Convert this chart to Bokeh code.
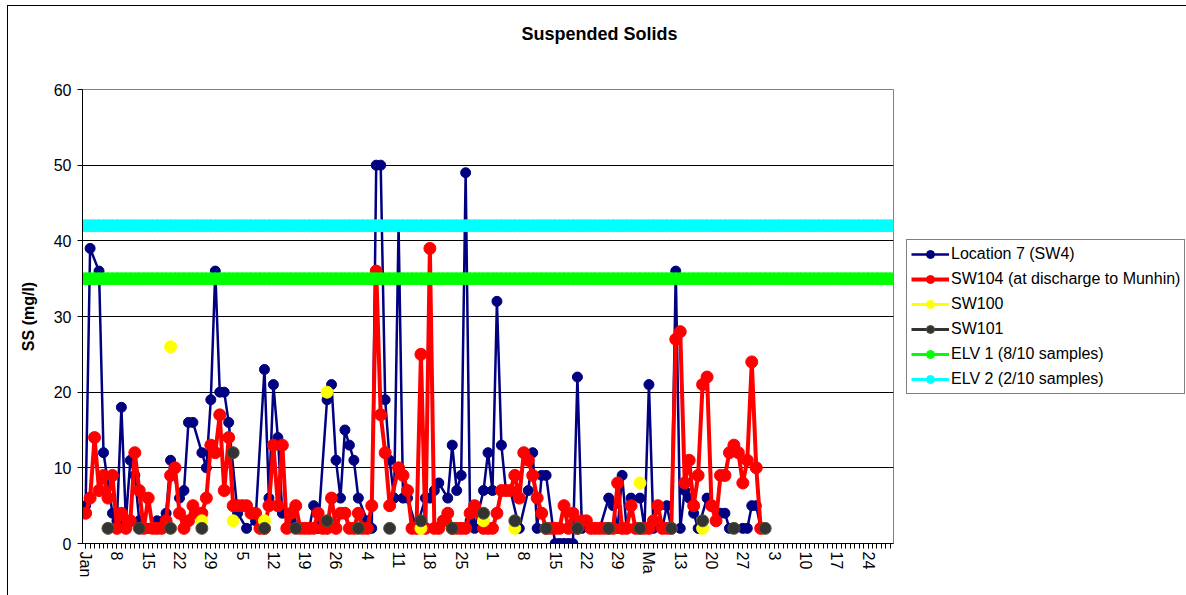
from bokeh.plotting import figure
from bokeh.models import Range1d, FixedTicker, Legend, LegendItem, Title
from bokeh.embed import file_html
from bokeh.resources import INLINE

FONT = "Liberation Sans"

# ---------------- data ----------------
# x = day of year (0 = 1 Jan), weekly tick labels as printed on the chart
tick_days = [0, 7, 14, 21, 28, 35, 42, 49, 56, 63, 70, 77, 84, 91, 98, 105,
             112, 119, 126, 133, 140, 147, 154, 161, 168, 175]
tick_labels = ["Jan", "8", "15", "22", "29", "5", "12", "19", "26", "4", "11",
               "18", "25", "1", "8", "15", "22", "29", "Ma", "13", "20", "27",
               "3", "10", "17", "24"]

loc7_day = [0, 1, 3, 4, 6, 7, 8, 9, 10, 11,
            12, 14, 16, 18, 19, 21, 22, 23, 24, 26,
            27, 28, 29, 30, 31, 32, 34, 36, 38, 40,
            41, 42, 43, 44, 46, 48, 50, 51, 52, 54,
            55, 56, 57, 58, 59, 60, 61, 63, 64, 65,
            66, 67, 68, 69, 70, 71, 72, 74, 76, 77,
            78, 79, 81, 82, 83, 84, 85, 86, 87, 89,
            90, 91, 92, 93, 94, 95, 97, 99, 100, 101,
            102, 103, 105, 106, 107, 108, 109, 110, 111, 113,
            115, 117, 118, 119, 120, 121, 122, 124, 125, 126,
            127, 129, 130, 131, 132, 133, 134, 135, 136, 137,
            139, 140, 142, 143, 144, 145, 147, 148, 149, 150,
            151]
loc7_ss = [5, 39, 36, 12, 4, 3, 18, 3, 11, 9,
           3, 2, 3, 4, 11, 6, 7, 16, 16, 12,
           10, 19, 36, 20, 20, 16, 4, 2, 3, 23,
           6, 21, 14, 4, 3, 2, 2, 5, 2, 19,
           21, 11, 6, 15, 13, 11, 6, 3, 2, 50,
           50, 19, 11, 6, 42, 6, 6, 2, 6, 6,
           7, 8, 6, 13, 7, 9, 49, 3, 2, 7,
           12, 7, 32, 13, 7, 7, 2, 7, 12, 2,
           9, 9, 0, 0, 0, 0, 0, 22, 2, 2,
           2, 6, 5, 2, 9, 2, 6, 6, 2, 21,
           2, 2, 5, 2, 36, 2, 7, 6, 4, 2,
           6, 5, 4, 4, 2, 2, 2, 2, 5, 5,
           2]

sw104_day = [0, 1, 2, 3, 4, 5, 6, 7, 8, 9,
             10, 11, 12, 13, 14, 15, 16, 17, 18, 19,
             20, 21, 22, 23, 24, 25, 26, 27, 28, 29,
             30, 31, 32, 33, 34, 35, 36, 37, 38, 39,
             40, 41, 42, 43, 44, 45, 46, 47, 48, 49,
             50, 51, 52, 53, 54, 55, 56, 57, 58, 59,
             60, 61, 62, 63, 64, 65, 66, 67, 68, 70,
             71, 72, 73, 74, 75, 76, 77, 78, 79, 80,
             81, 82, 83, 84, 85, 86, 87, 88, 89, 90,
             91, 92, 93, 94, 95, 96, 97, 98, 99, 100,
             101, 102, 103, 104, 105, 106, 107, 108, 109, 110,
             111, 112, 113, 114, 115, 116, 117, 118, 119, 120,
             121, 122, 123, 124, 125, 126, 127, 128, 129, 130,
             131, 132, 133, 134, 135, 136, 137, 138, 139, 140,
             141, 142, 143, 144, 145, 146, 147, 148, 149, 150, 151]
sw104_ss = [4, 6, 14, 7, 9, 6, 9, 2, 4, 2,
            3, 12, 7, 2, 6, 2, 2, 2, 3, 9,
            10, 4, 2, 3, 5, 4, 4, 6, 13, 12,
            17, 7, 14, 5, 5, 5, 5, 4, 4, 2,
            2, 5, 13, 5, 13, 2, 4, 5, 2, 2,
            2, 2, 4, 2, 2, 6, 2, 4, 4, 2,
            2, 4, 2, 2, 5, 36, 17, 12, 5, 10,
            9, 7, 2, 2, 25, 2, 39, 2, 2, 3,
            4, 2, 2, 2, 2, 4, 5, 4, 2, 2,
            2, 4, 7, 7, 7, 9, 6, 12, 11, 9,
            6, 4, 2, 2, 2, 2, 5, 2, 4, 2,
            3, 3, 2, 2, 2, 2, 2, 2, 8, 2,
            2, 5, 2, 2, 2, 2, 3, 5, 2, 2,
            2, 27, 28, 8, 11, 5, 9, 21, 22, 5,
            3, 9, 9, 12, 13, 12, 8, 11, 24, 10, 2]

sw100_day = [19, 26, 33, 40, 54, 75, 89, 96, 124, 138]
sw100_ss = [26, 3, 3, 3, 20, 2, 3, 2, 8, 2]

sw101_day = [5, 12, 19, 26, 33, 40, 47, 54, 61, 68, 75,
             82, 89, 96, 103, 110, 117, 124, 131, 138, 145, 152]
sw101_ss = [2, 2, 2, 2, 12, 2, 2, 3, 2, 2, 3,
            2, 4, 3, 2, 2, 2, 2, 2, 3, 2, 2]

ELV1 = 35   # 8/10 samples limit
ELV2 = 42   # 2/10 samples limit
elv_day = list(range(0, 181))

# ---------------- figure ----------------
p = figure(frame_width=811, frame_height=454,
           min_border_left=74, min_border_right=293,
           min_border_top=83, min_border_bottom=52,
           x_range=Range1d(-0.7, 180.7), y_range=Range1d(0, 60),
           output_backend="svg", toolbar_location=None,
           background_fill_color="white", border_fill_color="white",
           title="Suspended Solids")
p.styles = {"margin-left": "7px", "margin-top": "5px",
            "border-left": "1px solid black", "border-top": "1px solid black"}

p.title.align = "left"
p.title.offset = 439
p.title.text_font = FONT
p.title.text_font_size = "18px"
p.title.text_font_style = "bold"
p.title.text_color = "black"
p.title.standoff = 0

# empty spacer between the title and the plot area
spacer = Title(text=" ", text_font_size="2px", standoff=42)
p.add_layout(spacer, "above")

p.outline_line_color = "#808080"
p.outline_line_width = 1
p.xgrid.visible = False
p.ygrid.ticker = FixedTicker(ticks=[10, 20, 30, 40, 50, 60])
p.ygrid.grid_line_color = "black"
p.ygrid.grid_line_width = 1

ya = p.yaxis[0]
ya.ticker = FixedTicker(ticks=[0, 10, 20, 30, 40, 50, 60])
ya.axis_line_color = "black"
ya.major_tick_line_color = "black"
ya.major_tick_out = 5
ya.major_tick_in = 0
ya.minor_tick_line_color = None
ya.major_label_text_font = FONT
ya.major_label_text_font_size = "16px"
ya.major_label_text_color = "black"
ya.major_label_standoff = 6
ya.axis_label = "SS (mg/l)"
ya.axis_label_text_font = FONT
ya.axis_label_text_font_size = "16px"
ya.axis_label_text_font_style = "bold"
ya.axis_label_text_color = "black"
ya.axis_label_standoff = 14

xa = p.xaxis[0]
xa.ticker = FixedTicker(ticks=tick_days, minor_ticks=list(range(0, 181)))
xa.major_label_overrides = {d: l for d, l in zip(tick_days, tick_labels)}
xa.major_label_orientation = "vertical"
xa.axis_line_color = "black"
xa.major_tick_line_color = "black"
xa.minor_tick_line_color = "black"
xa.major_tick_out = 5
xa.major_tick_in = 0
xa.minor_tick_out = 5
xa.minor_tick_in = 0
xa.major_label_text_font = FONT
xa.major_label_text_font_size = "16px"
xa.major_label_text_color = "black"
xa.major_label_standoff = 3

NAVY, RED, YEL, DGR, GRN, CYN = "#000080", "#FF0000", "#FFFF00", "#333333", "#00FF00", "#00FFFF"

l1 = p.line(loc7_day, loc7_ss, line_color=NAVY, line_width=2.5)
m1 = p.scatter(loc7_day, loc7_ss, size=10, fill_color=NAVY, line_color=NAVY)

l2 = p.line(sw104_day, sw104_ss, line_color=RED, line_width=4)
m2 = p.scatter(sw104_day, sw104_ss, size=12, fill_color=RED, line_color=RED)

# single-point line: draws nothing in the plot, but gives the legend its line
l3 = p.line(sw100_day[:1], sw100_ss[:1], line_color=YEL, line_width=3)
m3 = p.scatter(sw100_day, sw100_ss, size=12, fill_color=YEL, line_color=YEL)

l4 = p.line(sw101_day[:1], sw101_ss[:1], line_color=DGR, line_width=3)
m4 = p.scatter(sw101_day, sw101_ss, size=12, fill_color=DGR, line_color="#555533")

elv1_ss = [ELV1] * len(elv_day)
elv2_ss = [ELV2] * len(elv_day)
l5 = p.line(elv_day, elv1_ss, line_color=GRN, line_width=3)
m5 = p.scatter(elv_day, elv1_ss, size=12, fill_color=GRN, line_color=GRN)
l6 = p.line(elv_day, elv2_ss, line_color=CYN, line_width=3)
m6 = p.scatter(elv_day, elv2_ss, size=12, fill_color=CYN, line_color=CYN)

legend = Legend(items=[
    LegendItem(label="Location 7 (SW4)", renderers=[l1, m1]),
    LegendItem(label="SW104 (at discharge to Munhin)", renderers=[l2, m2]),
    LegendItem(label="SW100", renderers=[l3, m3]),
    LegendItem(label="SW101", renderers=[l4, m4]),
    LegendItem(label="ELV 1 (8/10 samples)", renderers=[l5, m5]),
    LegendItem(label="ELV 2 (2/10 samples)", renderers=[l6, m6]),
], location=(13, 149))
legend.label_text_font = FONT
legend.label_text_font_size = "16px"
legend.label_text_color = "black"
legend.border_line_color = "black"
legend.border_line_width = 1
legend.background_fill_color = "white"
legend.background_fill_alpha = 1
legend.glyph_width = 38
legend.glyph_height = 20
legend.spacing = 5
legend.padding = 4
legend.margin = 0
legend.label_standoff = 2
legend.label_height = 20
p.add_layout(legend, "right")

open("out.html", "w").write(file_html(p, INLINE))
